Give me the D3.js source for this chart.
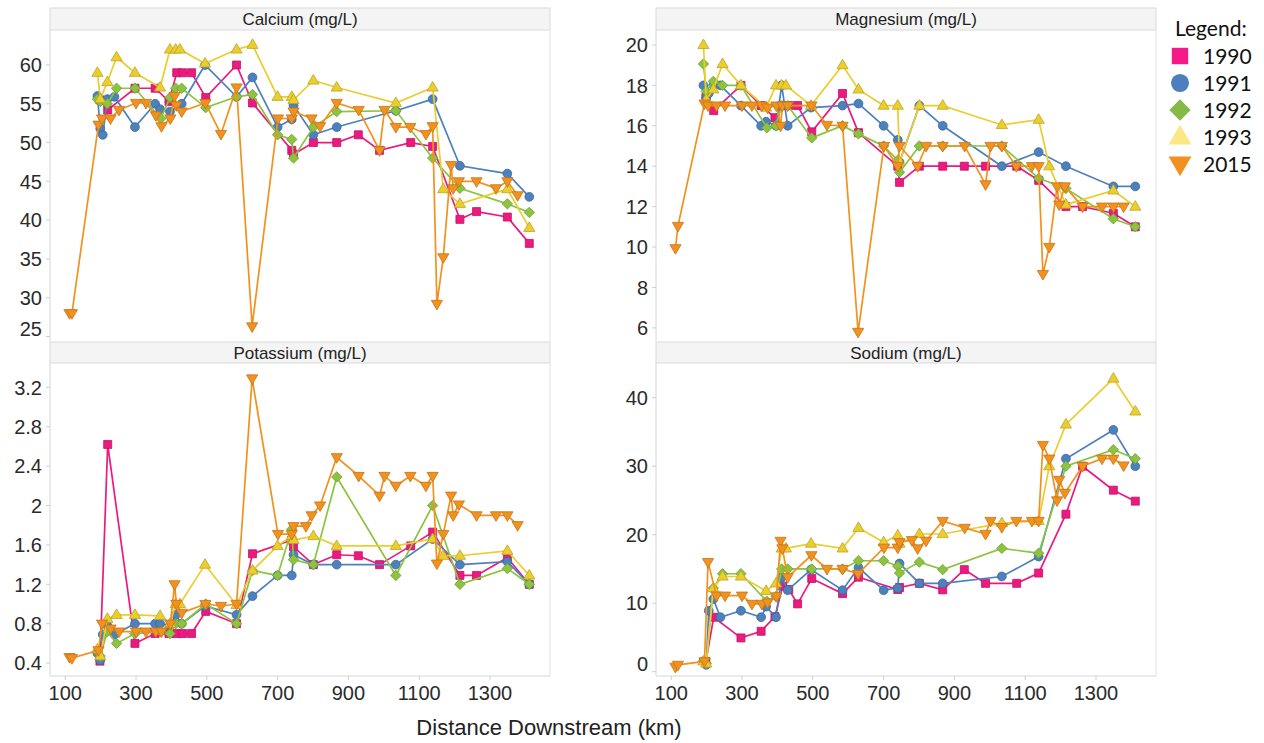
<!DOCTYPE html>
<html>
<head>
<meta charset="utf-8">
<script src="https://cdn.jsdelivr.net/npm/d3@7"></script>
<style>
  body { margin: 0; background: #fff; }
  svg { display: block; font-family: "Liberation Sans", Arial, sans-serif; }
</style>
</head>
<body>
<div id="chart"></div>
<script>
// ---- data ----
const years = ["1990", "1991", "1992", "1993", "2015"];

const dist1990 = [198, 220, 297, 354, 393, 415, 432, 457, 497, 584, 629, 740, 745, 801, 867, 928, 988, 1076, 1138, 1215, 1262, 1349, 1411];
const ca1990 = [55.5, 54.2, 57, 57, 55.3, 59, 59, 59, 55.8, 60, 55.1, 49, 48.5, 50, 50, 51, 49, 50, 49.5, 40.1, 41.1, 40.4, 37];
const mg1990 = [17.4, 16.75, 18, 17, 16.4, 17, 17, 17, 15.7, 17.6, 15.66, 14, 13.2, 14, 14, 14, 14, 14, 13.3, 12, 12, 11.67, 11];
const k1990 = [0.42, 2.62, 0.6, 0.7, 0.7, 0.7, 0.7, 0.7, 0.925, 0.8, 1.51, 1.65, 1.58, 1.4, 1.5, 1.49, 1.4, 1.59, 1.73, 1.29, 1.29, 1.47, 1.2];
const na1990 = [1.5, 7.95, 4.93, 5.9, 8.05, 12.5, 12, 9.9, 13.6, 11.4, 13.8, 12, 12.3, 12.9, 11.95, 14.9, 12.9, 12.9, 14.4, 23, 30, 26.5, 24.9];

const dist1991 = [191, 199, 206, 219, 239, 297, 354, 368, 396, 412, 429, 495, 584, 629, 700, 740, 745, 801, 867, 1034, 1138, 1215, 1349, 1411];
const ca1991 = [56, 51.8, 51, 55.6, 55.9, 52, 55, 54.3, 54, null, 55, 60, 55.9, 58.4, 52, 53, 54.8, 51, 52, 54.1, 55.6, 47, 46, 43];
const mg1991 = [18, 17.4, 17.6, 18, 18, 17, 16, 16.2, 16, 18, 16, 16.9, 17, 17.1, 16, 15.3, 14.2, 17, 16, 14, 14.7, 14, 13, 13];
const k1991 = [0.5, 0.43, 0.69, 0.78, 0.69, 0.8, 0.8, 0.8, 0.78, 0.89, 0.8, 0.98, 0.89, 1.08, 1.29, 1.29, 1.5, 1.4, 1.4, 1.4, 1.66, 1.4, 1.43, 1.2];
const na1991 = [1.5, 1.0, 8.9, 10.6, 7.95, 8.9, 7.95, 9.5, 7.95, 13.8, 11.9, 14.9, 11.9, 15.2, 11.9, 12.2, 15.8, 12.9, 12.9, 13.9, 16.8, 31.1, 35.3, 30];

const dist1992 = [191, 199, 219, 245, 297, 370, 396, 412, 429, 497, 584, 629, 700, 740, 745, 801, 867, 1034, 1138, 1215, 1349, 1411];
const ca1992 = [55.6, 55.3, 55, 57, 57, 53.1, 55.8, 57, 57, 54.5, 55.9, 56.2, 51, 50.4, 48, 52, 54, 54.1, 48, 44.1, 42.1, 41];
const mg1992 = [19.06, 17.7, 18.2, 18, 18, 15.9, 16, 17, 17, 15.4, 16, 15.6, 15, 14.3, 13.7, 15, 15, 15, 13.4, 12.9, 11.4, 11];
const k1992 = [0.52, 0.47, 0.72, 0.6, 0.7, 0.72, 0.7, 0.8, 0.8, 1.0, 0.8, 1.34, 1.29, 1.76, 1.45, 1.4, 2.29, 1.29, 2.0, 1.2, 1.36, 1.2];
const na1992 = [1.5, 1.2, 12.2, 14.3, 14.3, 10.3, 11, 15, 15, 15, 15, 16.2, 16.2, 15.4, 14.4, 16, 14.9, 18, 17.3, 30, 32.4, 31.1];

const dist1993 = [191, 199, 219, 245, 297, 368, 396, 412, 424, 495, 584, 629, 700, 740, 745, 801, 867, 1034, 1138, 1168, 1215, 1349, 1411];
const ca1993 = [59, 55.6, 57.8, 61, 59, 57.1, 62, 62, 62, 60.2, 62, 62.6, 55.9, 55.9, 55.5, 58, 57.1, 55.1, 57.1, 44, 42.1, 44, 39];
const mg1993 = [20, 17.3, 17.8, 19.06, 18, 16.9, 18, 18, 18, 17, 19, 17.8, 17, 17, 14.2, 17, 17, 16.04, 16.3, 14, 12.1, 12.8, 12];
const k1993 = [0.54, 0.47, 0.85, 0.89, 0.89, 0.88, 0.8, 1.0, 1.0, 1.4, 0.99, 1.34, 1.59, 1.69, 1.65, 1.69, 1.59, 1.59, 1.66, 1.49, 1.49, 1.54, 1.29];
const na1993 = [1.5, 1.2, 12.2, 13.9, 13.9, 11.8, 12.9, 18, 18, 18.7, 18, 21, 18.9, 19.9, 18.7, 20.1, 20.1, 21.7, 22, 30, 36.1, 42.8, 38];

const dist2015 = [112, 119, 194, 204, 228, 252, 300, 328, 356, 372, 397, 409, 414, 429, 496, 540, 584, 628, 701, 740, 745, 780, 796, 820, 867, 929, 988, 1002, 1034, 1075, 1119, 1138, 1150, 1168, 1190, 1196, 1212, 1262, 1317, 1349, 1378];
const ca2015 = [28, 28, 52.3, 53.1, 53.1, 54.2, 55.1, 55.1, 53.5, 52.1, 53.1, 56, 54.8, 54, 55.1, 51.1, 57.1, 26.3, 53.1, 53.1, 54, null, 53.1, 52.1, 55.1, 54.2, 49, 54.2, 52, 52, 51.1, 52.1, 29.2, 35.2, 47.1, 44.1, 45, 45, 44.1, 45, 43.2];
const mg2015 = [9.94, 11.04, 17.1, 17, 17, 17, 17, 17, 17, 16.9, 17, 16, 17, 17, 17, 16.04, 16, 5.8, 15, 14, 15, null, 14, 15, 15, 15, 13.1, 15, 15, 14, 14, 14, 8.66, 10, 13, 12.1, 13, 12, 12, 12, 12];
const k2015 = [0.46, 0.45, 0.53, 0.8, 0.75, 0.72, 0.72, 0.72, 0.72, 0.72, 0.8, 1.2, 1.0, 0.91, 1.0, 0.98, 1.0, 3.29, 1.71, 1.71, 1.79, 1.79, 1.9, 2.0, 2.49, 2.3, 2.1, 2.3, 2.2, 2.3, 2.2, 2.3, 1.41, 1.71, 2.1, 1.9, 2.01, 1.9, 1.9, 1.9, 1.8];
const na2015 = [0.7, 1.0, 1.5, 16, 11.1, 11.1, 11.1, 9.9, 9.9, 10.1, 11, 19.1, 18, 13.8, 17, 15, 15, 14.3, 18.1, 18.1, 18.9, 19.2, 18, 19.1, 22, 21, 20.1, 22, 21.1, 22, 22, 22, 33.1, 31.1, 25, 28, 26.1, 30, 31.1, 31.1, 30.1];

const distTicks = [100, 300, 500, 700, 900, 1100, 1300];
const caTicks = [25, 30, 35, 40, 45, 50, 55, 60];
const mgTicks = [6, 8, 10, 12, 14, 16, 18, 20];
const kTicks = [0.4, 0.8, 1.2, 1.6, 2, 2.4, 2.8, 3.2];
const naTicks = [0, 10, 20, 30, 40];

// ---- setup ----
const W = 1264, H = 743;
const svg = d3.select("#chart").append("svg")
    .attr("width", W)
    .attr("height", H);

const dists = {"1990": dist1990, "1991": dist1991, "1992": dist1992, "1993": dist1993, "2015": dist2015};
const colors = {"1990": "#ec1a7e", "1991": "#4c81bd", "1992": "#8cc43f", "1993": "#ebcd2e", "2015": "#f3911e"};
const legendColors = {"1990": "#f5198a", "1991": "#4d7fc0", "1992": "#86b94a", "1993": "#fbe786", "2015": "#f3911e"};

const panels = [
    {title: "Calcium (mg/L)", col: 0, row: 0, domain: [24.42, 64.51], ticks: caTicks,
        values: {"1990": ca1990, "1991": ca1991, "1992": ca1992, "1993": ca1993, "2015": ca2015}},
    {title: "Magnesium (mg/L)", col: 1, row: 0, domain: [5.35, 20.74], ticks: mgTicks,
        values: {"1990": mg1990, "1991": mg1991, "1992": mg1992, "1993": mg1993, "2015": mg2015}},
    {title: "Potassium (mg/L)", col: 0, row: 1, domain: [0.269, 3.447], ticks: kTicks,
        values: {"1990": k1990, "1991": k1991, "1992": k1992, "1993": k1993, "2015": k2015}},
    {title: "Sodium (mg/L)", col: 1, row: 1, domain: [-0.63, 45.07], ticks: naTicks,
        values: {"1990": na1990, "1991": na1991, "1992": na1992, "1993": na1993, "2015": na2015}}
];

const cols = [{x0: 50, x1: 550}, {x0: 656, x1: 1156}];
const rows = [{h0: 8, top: 30, bottom: 341}, {h0: 342, top: 363, bottom: 676}];

// marker shapes centred on the point, s = scale
function shape(year, s) {
    if (year === "1990") return `M${-4 * s},${-4 * s}h${8 * s}v${8 * s}h${-8 * s}Z`;
    if (year === "1991") return d3.symbol(d3.symbolCircle, Math.PI * Math.pow(4.4 * s, 2))();
    if (year === "1992") return `M0,${-5.2 * s}L${5.2 * s},0L0,${5.2 * s}L${-5.2 * s},0Z`;
    if (year === "1993") return `M0,${-6 * s}L${5.6 * s},${3.6 * s}L${-5.6 * s},${3.6 * s}Z`;
    return `M0,${6 * s}L${5.6 * s},${-3.6 * s}L${-5.6 * s},${-3.6 * s}Z`;
}

panels.forEach(p => {
    let c = cols[p.col], r = rows[p.row];
    let x = d3.scaleLinear().domain([57, 1469.5]).range([c.x0, c.x1]);
    let y = d3.scaleLinear().domain(p.domain).range([r.bottom, r.top]);
    let g = svg.append("g");

    // header strip
    g.append("rect")
        .attr("x", c.x0).attr("y", r.h0)
        .attr("width", c.x1 - c.x0).attr("height", r.top - r.h0)
        .attr("fill", "#f4f4f4").attr("stroke", "#dadada");
    g.append("text")
        .attr("x", (c.x0 + c.x1) / 2).attr("y", (r.h0 + r.top) / 2 + 6)
        .attr("text-anchor", "middle")
        .attr("font-size", "17px").attr("fill", "#222")
        .text(p.title);

    // pane borders
    g.append("line").attr("x1", c.x0).attr("x2", c.x0).attr("y1", r.top).attr("y2", r.bottom)
        .attr("stroke", "#d6d6d6");
    g.append("line").attr("x1", c.x1).attr("x2", c.x1).attr("y1", r.top).attr("y2", r.bottom)
        .attr("stroke", "#e2e2e2");

    // y ticks + labels
    p.ticks.forEach(t => {
        let ty = y(t);
        g.append("line").attr("x1", c.x0 - 4).attr("x2", c.x0).attr("y1", ty).attr("y2", ty)
            .attr("stroke", "#cfcfcf");
        g.append("text")
            .attr("x", c.x0 - 8)
            .attr("y", Math.min(ty, r.bottom - 12))
            .attr("dy", "0.36em")
            .attr("text-anchor", "end")
            .attr("font-size", "20px").attr("fill", "#2a2a2a")
            .text(String(t));
    });

    // x axis on bottom row
    if (p.row === 1) {
        g.append("line").attr("x1", c.x0).attr("x2", c.x1).attr("y1", r.bottom).attr("y2", r.bottom)
            .attr("stroke", "#d6d6d6");
        distTicks.forEach(t => {
            g.append("line").attr("x1", x(t)).attr("x2", x(t)).attr("y1", r.bottom).attr("y2", r.bottom + 4)
                .attr("stroke", "#cfcfcf");
            g.append("text")
                .attr("x", x(t)).attr("y", 700)
                .attr("text-anchor", "middle")
                .attr("font-size", "20px").attr("fill", "#2a2a2a")
                .text(t);
        });
    }

    // series
    let line = d3.line().x(d => x(d.d)).y(d => y(d.v));
    years.forEach(yr => {
        let pts = dists[yr].map((d, i) => ({d: d, v: p.values[yr][i]})).filter(d => d.v !== null);
        let col = colors[yr];
        g.append("path")
            .datum(pts)
            .attr("d", line)
            .attr("fill", "none")
            .attr("stroke", col)
            .attr("stroke-width", 1.7);
        g.selectAll(".m" + yr)
            .data(pts)
            .enter().append("path")
            .attr("class", "m" + yr)
            .attr("transform", d => `translate(${x(d.d)},${y(d.v)})`)
            .attr("d", shape(yr, 1))
            .attr("fill", col)
            .attr("stroke", d3.color(col).darker(0.6))
            .attr("stroke-width", 0.8);
    });
});

// axis title
svg.append("text")
    .attr("x", 549).attr("y", 735)
    .attr("text-anchor", "middle")
    .attr("font-size", "22px").attr("fill", "#222")
    .text("Distance Downstream (km)");

// legend
const lg = svg.append("g").attr("font-family", "Lato, 'Open Sans', sans-serif");
lg.append("text")
    .attr("x", 1175).attr("y", 36)
    .attr("font-size", "21px").attr("fill", "#111")
    .text("Legend:");
years.forEach((yr, i) => {
    let cy = 56 + i * 27;
    lg.append("path")
        .attr("transform", `translate(1180,${cy})`)
        .attr("d", shape(yr, 2.05))
        .attr("fill", legendColors[yr]);
    lg.append("text")
        .attr("x", 1203).attr("y", cy + 7.5)
        .attr("font-size", "21px").attr("fill", "#111")
        .text(yr);
});
</script>
</body>
</html>
